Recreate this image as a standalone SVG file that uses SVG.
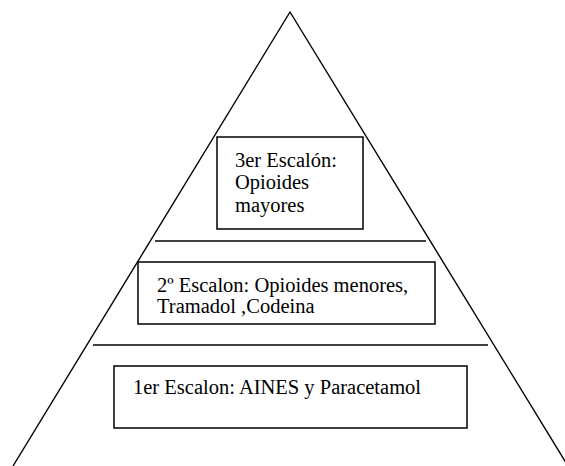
<svg xmlns="http://www.w3.org/2000/svg" width="565" height="466" viewBox="0 0 565 466">
<style>
.ln{stroke:#000;stroke-width:1.4;fill:none}
.bx{fill:#fff;stroke:#000;stroke-width:1.5}
text{font-family:"Liberation Serif","Times New Roman",serif;font-size:20.5px;fill:#000}
</style>
<rect width="565" height="466" fill="#fff"/>
<g id="pyramid">
<polyline class="ln" points="13,466 290,12 568,466"/>
</g>
<g id="connectors">
<line class="ln" x1="155" y1="241" x2="426" y2="241"/>
<line class="ln" x1="93" y1="345" x2="488" y2="345"/>
</g>
<g id="n3">
<rect class="bx" x="217" y="137" width="146" height="92"/>
<text x="235" y="167">3er Escalón:</text>
<text x="235" y="189">Opioides</text>
<text x="235" y="212">mayores</text>
</g>
<g id="n2">
<rect class="bx" x="138" y="262" width="297" height="62"/>
<text x="157" y="292">2º Escalon: Opioides menores,</text>
<text x="157" y="313">Tramadol ,Codeina</text>
</g>
<g id="n1">
<rect class="bx" x="114" y="366" width="353" height="62"/>
<text x="133" y="394">1er Escalon: AINES y Paracetamol</text>
</g>
</svg>
